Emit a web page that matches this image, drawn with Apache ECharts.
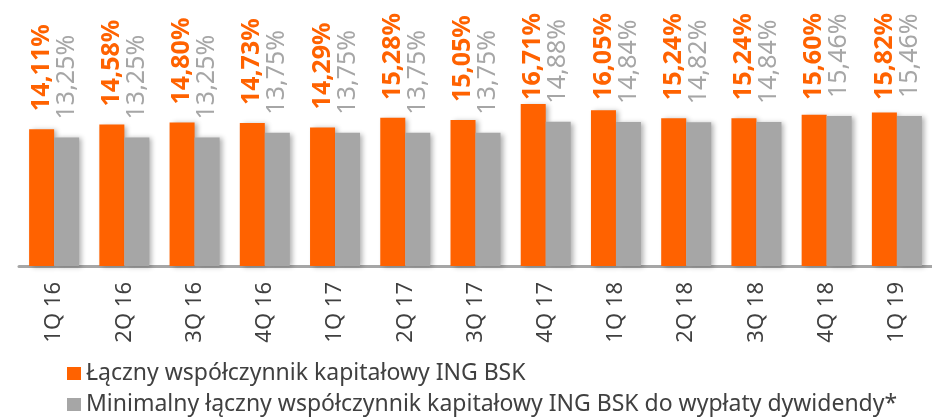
<!DOCTYPE html>
<html>
<head>
<meta charset="utf-8">
<script src="https://cdn.jsdelivr.net/npm/echarts@6/dist/echarts.min.js"></script>
<style>
  body { margin: 0; padding: 0; background: #fff; }
  #chart { width: 932px; height: 419px; }
</style>
</head>
<body>
<div id="chart"></div>
<script>
const quarters = ['1Q 16', '2Q 16', '3Q 16', '4Q 16', '1Q 17', '2Q 17', '3Q 17', '4Q 17', '1Q 18', '2Q 18', '3Q 18', '4Q 18', '1Q 19']
const totalRatio = [14.11, 14.58, 14.80, 14.73, 14.29, 15.28, 15.05, 16.71, 16.05, 15.24, 15.24, 15.60, 15.82]
const minRatio = [13.25, 13.25, 13.25, 13.75, 13.75, 13.75, 13.75, 14.88, 14.84, 14.82, 14.84, 15.46, 15.46]
const seriesNames = [
  'Łączny współczynnik kapitałowy ING BSK',
  'Minimalny łączny współczynnik kapitałowy ING BSK do wypłaty dywidendy*'
]

const ORANGE = '#ff6200'
const GREY = '#a6a6a6'
const TEXT = '#404040'
const FONT = 'Noto Sans'
const LABEL_GAP = 18
const LABEL_CEIL = 13

const fmt = p => p.value.toFixed(2).replace('.', ',') + '%'

// labels sit above the bar but get pushed down so they never leave the picture
const keepInside = params => {
  const r = params.labelRect
  const b = params.rect
  const len = Math.max(r.width, r.height)
  const anchor = Math.max(b.y - LABEL_GAP, LABEL_CEIL + len)
  return {
    x: b.x + b.width / 2,
    y: anchor,
    rotate: 90,
    align: 'left',
    verticalAlign: 'middle'
  }
}

const barLabel = (color, weight) => ({
  show: true,
  position: 'top',
  distance: LABEL_GAP,
  rotate: 90,
  align: 'left',
  verticalAlign: 'middle',
  color: color,
  fontFamily: FONT,
  fontSize: 25,
  fontWeight: weight,
  formatter: fmt
})

const legendItem = (name, top) => ({
  orient: 'vertical',
  left: 62,
  top: top,
  icon: 'rect',
  itemWidth: 14,
  itemHeight: 13,
  textStyle: { color: TEXT, fontFamily: FONT, fontSize: 23 },
  data: [name]
})

const chart = echarts.init(document.getElementById('chart'))
chart.setOption({
  animation: false,
  backgroundColor: '#fff',
  grid: { left: 19, right: -3, top: 72, bottom: 153, containLabel: false },
  legend: [
    legendItem(seriesNames[0], 357),
    legendItem(seriesNames[1], 388)
  ],
  xAxis: {
    type: 'category',
    data: quarters,
    axisLine: { lineStyle: { color: GREY, width: 3 } },
    axisTick: { show: false },
    axisLabel: {
      rotate: 90,
      margin: 16,
      color: TEXT,
      fontFamily: FONT,
      fontSize: 22
    }
  },
  yAxis: {
    type: 'value',
    min: 0,
    max: 20,
    show: false,
    splitLine: { show: false }
  },
  series: [
    {
      name: seriesNames[0],
      type: 'bar',
      data: totalRatio,
      barWidth: 25,
      barGap: '0%',
      itemStyle: { color: ORANGE, shadowColor: 'rgba(0,0,0,0.3)', shadowBlur: 5, shadowOffsetX: 3, shadowOffsetY: 1 },
      label: barLabel(ORANGE, 'bold'),
      labelLayout: keepInside
    },
    {
      name: seriesNames[1],
      type: 'bar',
      data: minRatio,
      barWidth: 25,
      itemStyle: { color: GREY, shadowColor: 'rgba(0,0,0,0.3)', shadowBlur: 5, shadowOffsetX: 3, shadowOffsetY: 1 },
      label: barLabel(GREY, 'normal'),
      labelLayout: keepInside
    }
  ]
})
</script>
</body>
</html>
